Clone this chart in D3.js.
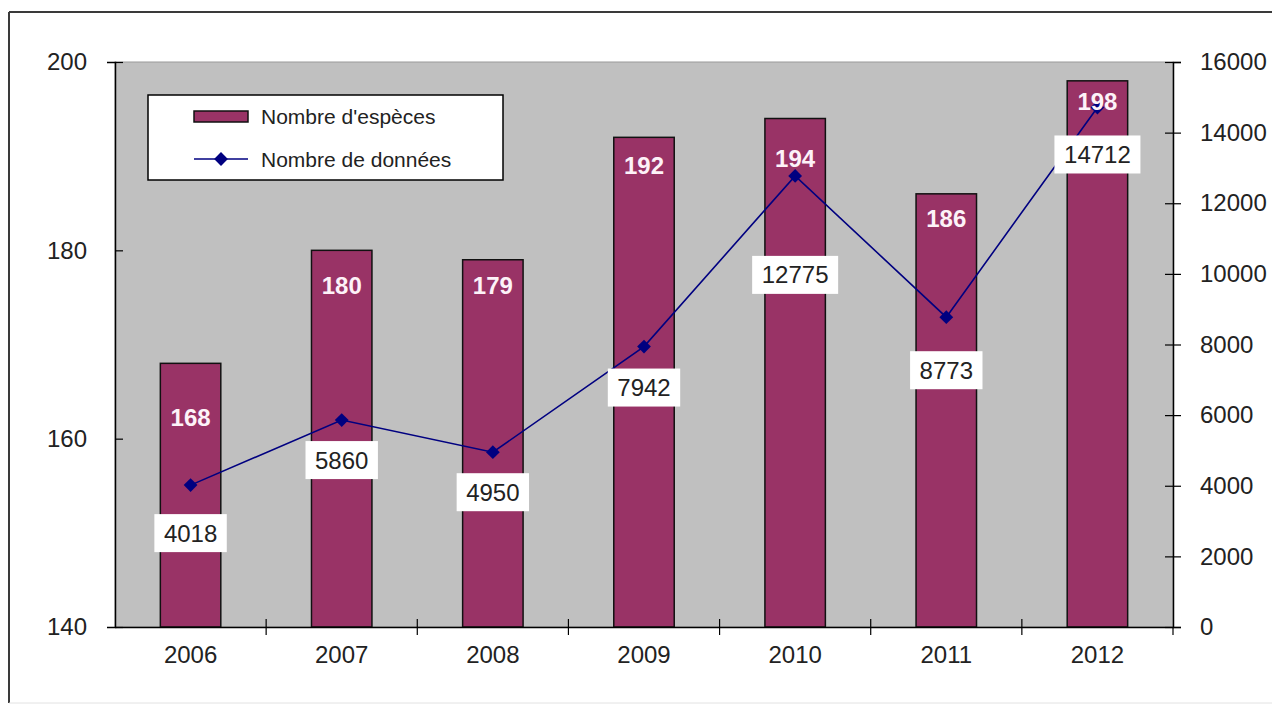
<!DOCTYPE html>
<html>
<head>
<meta charset="utf-8">
<script src="https://cdn.jsdelivr.net/npm/d3@7"></script>
<style>
  body { margin: 0; background: #fff; }
  svg text { font-family: "Liberation Sans", Arial, sans-serif; }
</style>
</head>
<body>
<div id="chart"></div>
<script>
// values
const years = ["2006", "2007", "2008", "2009", "2010", "2011", "2012"];
const especes = [168, 180, 179, 192, 194, 186, 198];
const donnees = [4018, 5860, 4950, 7942, 12775, 8773, 14712];
const leftTicks = [140, 160, 180, 200];
const rightTicks = [0, 2000, 4000, 6000, 8000, 10000, 12000, 14000, 16000];
const seriesNames = ["Nombre d'espèces", "Nombre de données"];

const W = 1272, H = 708;
const plot = {left: 115, top: 62, right: 1173, bottom: 627};

// labels were dragged by hand in the original, these are the shifts (px)
const barLabelDy = [54, 35, 26, 28, 40, 25, 21];
const lineLabelDy = [48, 40, 40, 41, 99, 53, 47];

const barColor = "#993366";
const lineColor = "#000080";
const textColor = "#222";

const svg = d3.select("#chart").append("svg")
    .attr("width", W)
    .attr("height", H);

// outer frame
svg.append("line").attr("x1", 9).attr("y1", 12).attr("x2", W).attr("y2", 12)
    .attr("stroke", "#3a3a3a").attr("stroke-width", 2);
svg.append("line").attr("x1", 9).attr("y1", 12).attr("x2", 9).attr("y2", 703)
    .attr("stroke", "#3a3a3a").attr("stroke-width", 2);
svg.append("line").attr("x1", 9).attr("y1", 703).attr("x2", W).attr("y2", 703)
    .attr("stroke", "#e2e2e2").attr("stroke-width", 1);

let x = d3.scaleBand()
    .domain(years)
    .range([plot.left, plot.right])
    .paddingInner(0.6)
    .paddingOuter(0.3);

let yLeft = d3.scaleLinear().domain([140, 200]).range([plot.bottom, plot.top]);
let yRight = d3.scaleLinear().domain([0, 16000]).range([plot.bottom, plot.top]);

// plot area
svg.append("rect")
    .attr("x", plot.left)
    .attr("y", plot.top)
    .attr("width", plot.right - plot.left)
    .attr("height", plot.bottom - plot.top)
    .attr("fill", "#c0c0c0")
    .attr("stroke", "#9a9a9a")
    .attr("stroke-width", 1);

// bars
svg.append("g").selectAll("rect")
    .data(years)
    .enter()
    .append("rect")
    .attr("x", d => x(d))
    .attr("y", (d, i) => yLeft(especes[i]))
    .attr("width", x.bandwidth())
    .attr("height", (d, i) => plot.bottom - yLeft(especes[i]))
    .attr("fill", barColor)
    .attr("stroke", "#111")
    .attr("stroke-width", 1.5);

// axes
function styleAxis(g) {
    g.select(".domain").attr("stroke", "#000").attr("stroke-width", 1.5);
    g.selectAll(".tick line").attr("stroke", "#000").attr("stroke-width", 1.2);
    g.selectAll(".tick text")
        .attr("fill", textColor)
        .style("font-size", "24px");
}

let gLeft = svg.append("g")
    .attr("transform", `translate(${plot.left},0)`)
    .call(d3.axisLeft(yLeft).tickValues(leftTicks).tickSizeOuter(0).tickSize(8).tickPadding(20));
gLeft.selectAll(".tick line").attr("x2", 8);
styleAxis(gLeft);

let gRight = svg.append("g")
    .attr("transform", `translate(${plot.right},0)`)
    .call(d3.axisRight(yRight).tickValues(rightTicks).tickFormat(d3.format("d"))
        .tickSizeOuter(0).tickSize(8).tickPadding(19));
gRight.selectAll(".tick line").attr("x2", -8).attr("x1", 8);
styleAxis(gRight);

let gBottom = svg.append("g")
    .attr("transform", `translate(0,${plot.bottom})`)
    .call(d3.axisBottom(x).tickSize(0).tickSizeOuter(0).tickPadding(19));
gBottom.selectAll(".tick line").remove();
styleAxis(gBottom);

// category boundary ticks
let boundaries = years.slice(0, -1).map(d => x(d) + x.bandwidth() / 2 + x.step() / 2);
gBottom.selectAll(".sep")
    .data(boundaries)
    .enter()
    .append("line")
    .attr("x1", d => d).attr("x2", d => d)
    .attr("y1", -8).attr("y2", 8)
    .attr("stroke", "#000")
    .attr("stroke-width", 1.2);
gBottom.append("line")
    .attr("x1", plot.right).attr("x2", plot.right)
    .attr("y1", 0).attr("y2", 8)
    .attr("stroke", "#000").attr("stroke-width", 1.2);

// line series
let cx = d => x(d) + x.bandwidth() / 2;
let line = d3.line()
    .x((d, i) => cx(years[i]))
    .y(d => yRight(d));

svg.append("path")
    .datum(donnees)
    .attr("d", line)
    .attr("fill", "none")
    .attr("stroke", lineColor)
    .attr("stroke-width", 1.6);

let diamond = d3.symbol().type(d3.symbolSquare).size(95);
svg.append("g").selectAll("path")
    .data(donnees)
    .enter()
    .append("path")
    .attr("d", diamond)
    .attr("transform", (d, i) => `translate(${cx(years[i])},${yRight(d)}) rotate(45)`)
    .attr("fill", lineColor);

// bar labels
svg.append("g").selectAll("text")
    .data(especes)
    .enter()
    .append("text")
    .attr("x", (d, i) => cx(years[i]))
    .attr("y", (d, i) => yLeft(d) + barLabelDy[i])
    .attr("text-anchor", "middle")
    .attr("dominant-baseline", "central")
    .attr("fill", "#fdf2f8")
    .style("font-size", "24px")
    .style("font-weight", "bold")
    .text(d => d);

// line labels in white boxes
let lineLabels = svg.append("g").selectAll("g")
    .data(donnees)
    .enter()
    .append("g")
    .attr("transform", (d, i) => `translate(${cx(years[i])},${yRight(d) + lineLabelDy[i]})`);

lineLabels.append("rect")
    .attr("x", d => -(String(d).length * 13.6 + 18) / 2)
    .attr("y", -19)
    .attr("width", d => String(d).length * 13.6 + 18)
    .attr("height", 38)
    .attr("fill", "#fff");

lineLabels.append("text")
    .attr("text-anchor", "middle")
    .attr("dominant-baseline", "central")
    .attr("fill", textColor)
    .style("font-size", "24px")
    .text(d => d);

// legend
let legend = svg.append("g").attr("transform", "translate(148,95)");
legend.append("rect")
    .attr("width", 355).attr("height", 85)
    .attr("fill", "#fff")
    .attr("stroke", "#000")
    .attr("stroke-width", 1.5);
legend.append("rect")
    .attr("x", 46).attr("y", 16)
    .attr("width", 54).attr("height", 11)
    .attr("fill", barColor)
    .attr("stroke", "#111")
    .attr("stroke-width", 1.5);
legend.append("line")
    .attr("x1", 46).attr("x2", 100)
    .attr("y1", 64).attr("y2", 64)
    .attr("stroke", lineColor)
    .attr("stroke-width", 1.6);
legend.append("path")
    .attr("d", diamond)
    .attr("transform", "translate(73,64) rotate(45)")
    .attr("fill", lineColor);
legend.selectAll("text.lab")
    .data(seriesNames)
    .enter()
    .append("text")
    .attr("class", "lab")
    .attr("x", 113)
    .attr("y", (d, i) => 21 + i * 43)
    .attr("dominant-baseline", "central")
    .attr("fill", textColor)
    .style("font-size", "21px")
    .text(d => d);
</script>
</body>
</html>
